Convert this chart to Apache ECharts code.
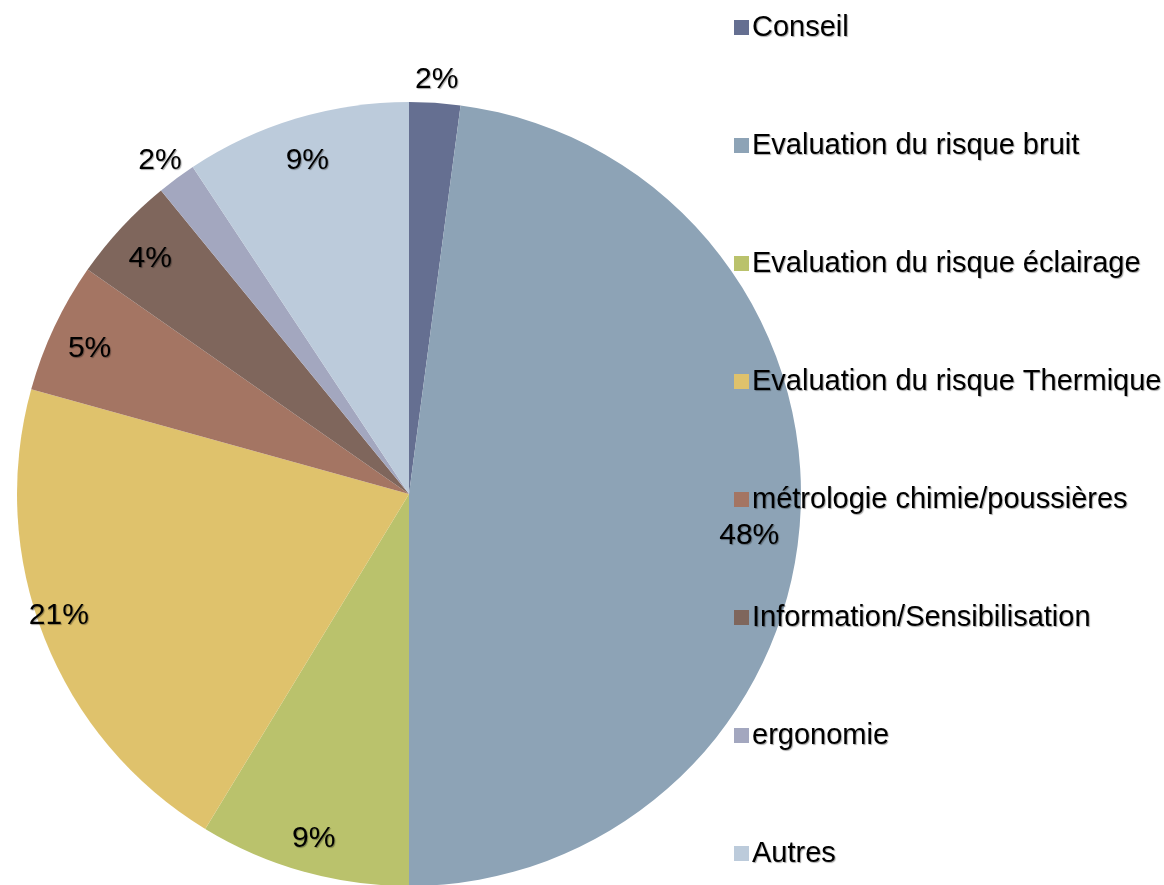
<!DOCTYPE html>
<html>
<head>
<meta charset="utf-8">
<script src="https://cdn.jsdelivr.net/npm/echarts@6/dist/echarts.min.js"></script>
<style>
  html, body { margin: 0; padding: 0; background: #fff; }
  #chart { width: 1164px; height: 885px; }
</style>
</head>
<body>
<div id="chart"></div>
<script>
// catégories et parts (%)
const categories = [
  'Conseil',
  'Evaluation du risque bruit',
  'Evaluation du risque éclairage',
  'Evaluation du risque Thermique',
  'métrologie chimie/poussières',
  'Information/Sensibilisation',
  'ergonomie',
  'Autres'
]
const shares = [2.1, 47.9, 8.7, 20.6, 5.4, 4.4, 1.6, 9.3]
const colors = ['#656f91', '#8da3b6', '#bac26c', '#dfc26c', '#a47563', '#7f665c', '#a3a7bf', '#bccbdb']
// petites parts dont l'étiquette est hors du disque
const outsideLabel = ['Conseil', 'ergonomie']

const pieData = categories.map((name, i) => ({ name, value: shares[i] }))

const shadowText = {
  textShadowColor: 'rgba(0,0,0,0.35)',
  textShadowOffsetX: 1,
  textShadowOffsetY: 1,
  textShadowBlur: 1
}

const center = [409, 494]
const R = 392

const labelStyle = Object.assign({
  show: true,
  position: 'inside',
  color: '#000',
  fontFamily: 'Liberation Sans, Arial, sans-serif',
  fontSize: 30,
  formatter: p => Math.round(p.percent) + '%'
}, shadowText)

// petit décalage des étiquettes (comme Excel, un peu plus bas)
function nudge(p) {
  const name = categories[p.dataIndex]
  if (name === 'Evaluation du risque bruit') return { dx: -12, dy: 18 }
  if (name === 'Evaluation du risque Thermique') return { dx: -22, dy: -8 }
  return { dy: 5 }
}

const chart = echarts.init(document.getElementById('chart'))
chart.setOption({
  animation: false,
  color: colors,
  legend: {
    orient: 'vertical',
    left: 729,
    top: 8,
    itemWidth: 15,
    itemHeight: 15,
    itemGap: 89,
    icon: 'rect',
    data: categories,
    textStyle: Object.assign({
      color: '#000',
      fontFamily: 'Liberation Sans, Arial, sans-serif',
      fontSize: 29,
      padding: [0, 0, 0, -2]
    }, shadowText)
  },
  series: [
    {
      // le disque
      type: 'pie',
      center: center,
      radius: [0, R],
      startAngle: 90,
      clockwise: true,
      silent: true,
      label: { show: false },
      labelLine: { show: false },
      itemStyle: { borderWidth: 0 },
      data: pieData
    },
    {
      // étiquettes intérieures (anneau transparent)
      type: 'pie',
      center: center,
      radius: [R - 84, R],
      startAngle: 90,
      silent: true,
      legendHoverLink: false,
      itemStyle: { color: 'rgba(0,0,0,0)' },
      label: labelStyle,
      labelLine: { show: false },
      labelLayout: nudge,
      data: pieData.map(d => ({
        name: d.name,
        value: d.value,
        label: { show: outsideLabel.indexOf(d.name) < 0 }
      }))
    },
    {
      // étiquettes extérieures (anneau transparent)
      type: 'pie',
      center: center,
      radius: [R, R + 50],
      startAngle: 90,
      silent: true,
      legendHoverLink: false,
      itemStyle: { color: 'rgba(0,0,0,0)' },
      label: labelStyle,
      labelLine: { show: false },
      labelLayout: { dy: 5 },
      data: pieData.map(d => ({
        name: d.name,
        value: d.value,
        label: { show: outsideLabel.indexOf(d.name) >= 0 }
      }))
    }
  ]
})
</script>
</body>
</html>
